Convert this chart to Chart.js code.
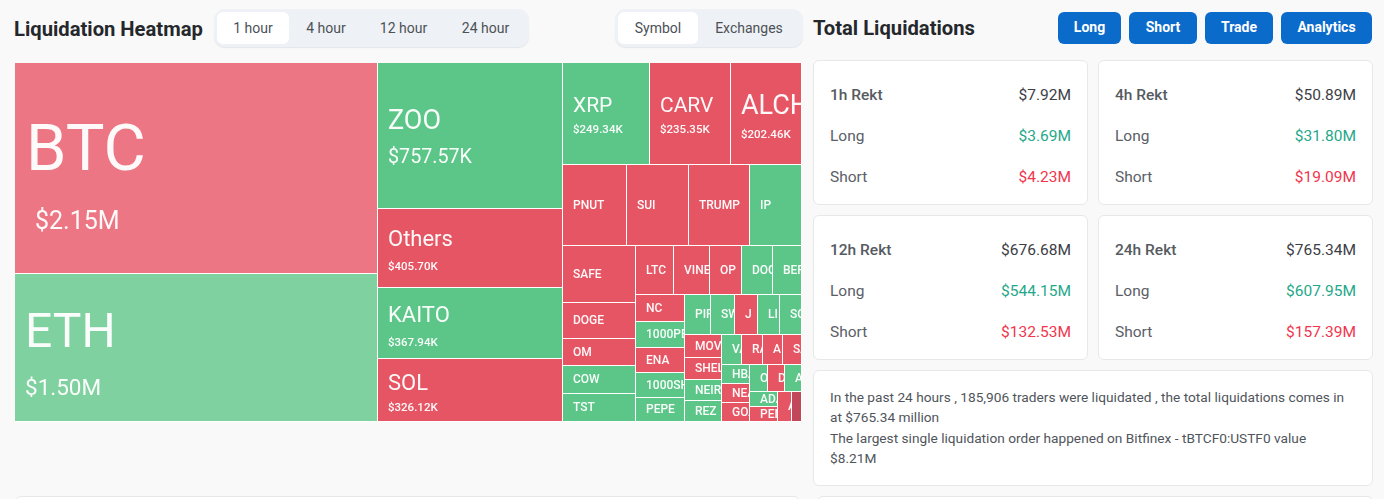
<!DOCTYPE html>
<html>
<head>
<meta charset="utf-8">
<title>Liquidation Heatmap</title>
<script src="https://cdn.jsdelivr.net/npm/chart.js@4"></script>
<style>
  html, body { margin: 0; height: 499px; overflow: hidden; background: #f9f9f9; color: #32363c; font-family: Roboto, sans-serif; }
  h2 { position: absolute; margin: 0; font-size: 20.2px; font-weight: 700; line-height: 28px; color: #24272b; }
  .pill { position: absolute; top: 9px; height: 38px; background: #eef1f5; border-radius: 11px; box-shadow: 0 1px 1px #e2e5e9; }
  .tab { position: absolute; top: 12px; height: 32px; line-height: 33px; text-align: center; font-size: 14px; color: #4c5157; border-radius: 6px; }
  .tab.on { background: #fff; }
  .btn { position: absolute; top: 12px; height: 32px; line-height: 31px; text-align: center; font-size: 14px; font-weight: 700; color: #fff; background: #0b6bcb; border-radius: 6px; }
  .card { position: absolute; width: 275px; height: 145px; box-sizing: border-box; background: #fff; border: 1px solid #e6e8ea; border-radius: 6px; font-size: 15.5px; }
  .row { position: absolute; left: 16px; right: 16px; display: flex; justify-content: space-between; color: #5b6067; }
  .row.head { top: 25px; font-weight: 500; color: #565b61; }
  .row.long { top: 66px; }
  .row.short { top: 107px; }
  .row.head b { font-weight: 400; color: #3c4046; }
  .long b { font-weight: 400; color: #1fa88a; }
  .short b { font-weight: 400; color: #f0364d; }
  .note { position: absolute; left: 813px; top: 370px; width: 560px; height: 116px; background: #fff; border: 1px solid #e6e8ea; border-radius: 6px; box-sizing: border-box; padding: 16px 22px 16px 16px; font-size: 13.7px; line-height: 20.4px; color: #50555b; }
  .stub { position: absolute; top: 496px; height: 20px; background: #fff; border: 1px solid #e6e8ea; border-radius: 6px; box-sizing: border-box; }
  #map { position: absolute; left: 15px; top: 63px; }
</style>
</head>
<body>
<h2 style="left:14px;top:15px">Liquidation Heatmap</h2>
<div class="pill" style="left:214px;width:315px"></div>
<div class="tab on" style="left:217px;width:72px">1 hour</div>
<div class="tab" style="left:289px;width:74px">4 hour</div>
<div class="tab" style="left:363px;width:81px">12 hour</div>
<div class="tab" style="left:444px;width:83px">24 hour</div>
<div class="pill" style="left:615px;width:188px"></div>
<div class="tab on" style="left:618px;width:80px">Symbol</div>
<div class="tab" style="left:698px;width:102px">Exchanges</div>
<h2 style="left:813px;top:14px">Total Liquidations</h2>
<div class="btn" style="left:1058px;width:63px">Long</div>
<div class="btn" style="left:1129px;width:68px">Short</div>
<div class="btn" style="left:1205px;width:68px">Trade</div>
<div class="btn" style="left:1281px;width:91px">Analytics</div>
<canvas id="map" width="787" height="359"></canvas>
<div id="cards"></div>
<div class="note">In the past 24 hours , 185,906 traders were liquidated , the total liquidations comes in at $765.34 million<br>The largest single liquidation order happened on Bitfinex - tBTCF0:USTF0 value $8.21M</div>
<div class="stub" style="left:15px;width:785px"></div>
<div class="stub" style="left:817px;width:556px"></div>
<script>
const symbols = [
  "BTC","ETH","ZOO","Others","KAITO","SOL","XRP","CARV","ALCH",
  "PNUT","SUI","TRUMP","IP","SAFE","DOGE","OM","COW","TST",
  "LTC","VINE","OP","DOGS","BERA","NC","1000PEPE","ENA","1000SHIB","PEPE",
  "PIP","SW","J","LI","SO","MOVE","SHELL","NEIRO","REZ",
  "VA","RA","A","SA","HBAR","NEAR","GOAT","O","D","A","ADA","PENGU","A","",
];
// liquidated amount in $K
const amounts = [
  2150,1500,757.57,405.70,367.94,326.12,249.34,235.35,202.46,
  145,139.5,136,118,117,74,57.5,57.5,57,
  52,49.5,44,42,40,37,36,34.5,34.5,33,
  28.5,26.4,25.8,25.2,24,23.3,22.3,21.8,21.3,
  17.7,17.3,16.9,16.4,15.1,15,14.8,13.7,13,12.7,12.3,11.8,11.5,8.9,
];
const sides = [
  "s","l","l","s","l","s","l","s","s",
  "s","s","s","l","s","s","s","l","l",
  "s","s","s","l","l","s","l","s","l","l",
  "l","l","s","l","l","s","s","l","l",
  "l","s","s","s","l","s","s","l","s","l","l","s","s","s",
];
const periods = ["1h Rekt","4h Rekt","12h Rekt","24h Rekt"];
const totals = ["$7.92M","$50.89M","$676.68M","$765.34M"];
const longs = ["$3.69M","$31.80M","$544.15M","$607.95M"];
const shorts = ["$4.23M","$19.09M","$132.53M","$157.39M"];

const LONG = "#5cc689", SHORT = "#e65564";
const SPECIAL = { 0: "#ec7683", 1: "#7fd19f", 50: "#c1485a" };

// size, price size, x inset, name y, price x inset, price y (relative to the cell)
const LABELS = {
  BTC: { size: 65, psize: 25, dx: 11, ny: 91, pdx: 20, py: 160 },
  ETH: { size: 48, psize: 22.5, dx: 10, ny: 61, pdx: 10, py: 115 },
  ZOO: { size: 27, psize: 19.7, dx: 10, ny: 59, pdx: 10, py: 95 },
  Others: { size: 22, psize: 11.5, dx: 10, ny: 31, pdx: 10, py: 58 },
  KAITO: { size: 22, psize: 11.5, dx: 10, ny: 28, pdx: 10, py: 55 },
  SOL: { size: 22, psize: 11.5, dx: 10, ny: 25, pdx: 10, py: 49 },
  XRP: { size: 21, psize: 11.5, dx: 10, ny: 44, pdx: 10, py: 67 },
  CARV: { size: 21, psize: 11.5, dx: 10, ny: 44, pdx: 10, py: 67 },
  ALCH: { size: 27, psize: 11.5, dx: 10, ny: 44, pdx: 10, py: 72 },
};

function fmtAmount(k) {
  return k >= 1000 ? `$${(k / 1000).toFixed(2)}M` : `$${k.toFixed(2)}K`;
}

// squarified layout, row kept while it gets closer to the golden ratio
function squarify(values, width, height) {
  const sum = values.reduce((a, b) => a + b, 0);
  const scale = width * height / sum;
  const rects = [];
  let x = 0, y = 0, w = width, h = height, i = 0;
  const PHI = (1 + Math.sqrt(5)) / 2;
  const worst = (s, max, min, side) => Math.max(side * side * max * PHI / (s * s), s * s / (side * side * min * PHI));
  while (i < values.length) {
    const side = Math.min(w, h);
    let s = 0, max = 0, min = Infinity, best = Infinity, j = i;
    while (j < values.length) {
      const a = values[j] * scale;
      const nextS = s + a, nextMax = Math.max(max, a), nextMin = Math.min(min, a);
      const score = worst(nextS, nextMax, nextMin, side);
      if (score > best) break;
      best = score; s = nextS; max = nextMax; min = nextMin; j++;
    }
    if (w < h) {
      const rowH = s / w;
      let cx = x;
      for (let k = i; k < j; k++) {
        const cw = values[k] * scale / rowH;
        rects.push({ x0: cx, x1: cx + cw, y0: y, y1: y + rowH });
        cx += cw;
      }
      y += rowH; h -= rowH;
    } else {
      const colW = s / h;
      let cy = y;
      for (let k = i; k < j; k++) {
        const ch = values[k] * scale / colW;
        rects.push({ x0: x, x1: x + colW, y0: cy, y1: cy + ch });
        cy += ch;
      }
      x += colW; w -= colW;
    }
    i = j;
  }
  return rects;
}

class TreemapController extends Chart.DatasetController {
  update() {
    const meta = this._cachedMeta;
    this.updateElements(meta.data, 0, meta.data.length, "none");
  }
  updateElements(elements, start, count, mode) {
    const { xScale, yScale } = this._cachedMeta;
    const rects = squarify(this.getDataset().data, xScale.max, yScale.max);
    for (let i = start; i < start + count; i++) {
      const r = rects[i];
      const left = Math.round(xScale.getPixelForValue(r.x0));
      const right = Math.round(xScale.getPixelForValue(r.x1));
      this.updateElement(elements[i], i, {
        x: (left + right) / 2,
        width: right - left,
        y: Math.round(yScale.getPixelForValue(r.y0)),
        base: Math.round(yScale.getPixelForValue(r.y1)),
        horizontal: false,
        borderSkipped: {},
        enableBorderRadius: false,
        inflateAmount: 0,
        options: {
          backgroundColor: this.getDataset().backgroundColor[i],
          borderColor: "#fff",
          borderWidth: { right: 1, bottom: 1 },
          borderRadius: 0,
        },
      }, mode);
    }
  }
}
TreemapController.id = "treemap";
TreemapController.defaults = { datasetElementType: false, dataElementType: "bar" };
Chart.register(TreemapController);

const cellLabels = {
  id: "cellLabels",
  afterDatasetsDraw(chart) {
    const { ctx } = chart;
    chart.getDatasetMeta(0).data.forEach((el, i) => {
      const left = el.x - el.width / 2, top = el.y, cellH = el.base - el.y;
      const st = LABELS[symbols[i]];
      ctx.save();
      ctx.beginPath();
      ctx.rect(left, top, el.width - 1, cellH - 1);
      ctx.clip();
      ctx.fillStyle = "rgba(255,255,255,0.96)";
      ctx.textBaseline = "middle";
      if (st) {
        ctx.font = `400 ${st.size}px Roboto`;
        ctx.fillText(symbols[i], left + st.dx, top + st.ny);
        ctx.font = `${st.psize < 14 ? 500 : 400} ${st.psize}px Roboto`;
        ctx.fillText(fmtAmount(amounts[i]), left + st.pdx, top + st.py);
      } else {
        ctx.font = "500 12px Roboto";
        ctx.fillText(symbols[i], left + 10, top + cellH / 2);
      }
      ctx.restore();
    });
  },
};

new Chart(document.getElementById("map"), {
  type: "treemap",
  data: {
    labels: symbols,
    datasets: [{
      data: amounts,
      parsing: false,
      backgroundColor: amounts.map((_, i) => SPECIAL[i] || (sides[i] === "l" ? LONG : SHORT)),
    }],
  },
  options: {
    responsive: false,
    animation: false,
    events: [],
    plugins: { legend: { display: false }, tooltip: { enabled: false } },
    scales: {
      x: { type: "linear", display: false, min: 0, max: 787 },
      y: { type: "linear", display: false, min: 0, max: 359, reverse: true },
    },
  },
  plugins: [cellLabels],
});

const cardSpots = [[813, 60], [1098, 60], [813, 215], [1098, 215]];
document.getElementById("cards").innerHTML = periods.map((p, i) => `
  <div class="card" style="left:${cardSpots[i][0]}px;top:${cardSpots[i][1]}px">
    <div class="row head"><span>${p}</span><b>${totals[i]}</b></div>
    <div class="row long"><span>Long</span><b>${longs[i]}</b></div>
    <div class="row short"><span>Short</span><b>${shorts[i]}</b></div>
  </div>`).join("");
</script>
</body>
</html>
